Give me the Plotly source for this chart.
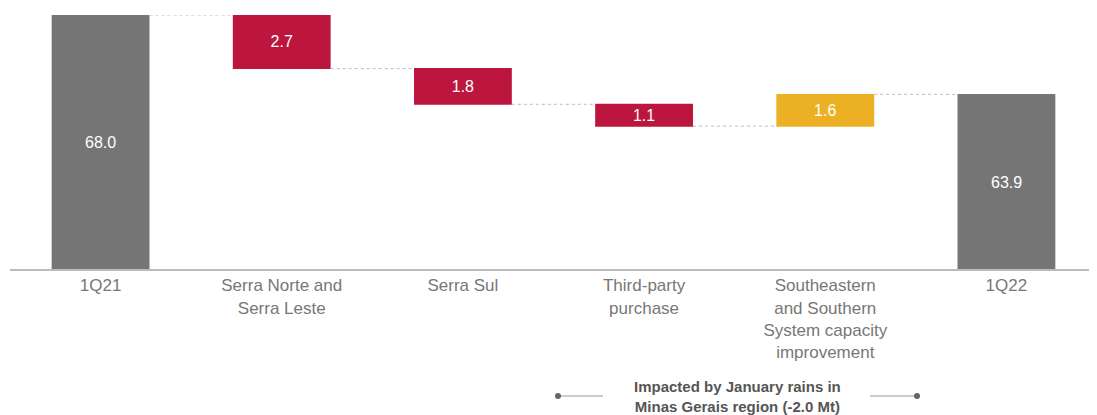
import plotly.graph_objects as go

categories = ["1Q21", "Serra Norte and<br>Serra Leste", "Serra Sul", "Third-party<br>purchase",
              "Southeastern<br>and Southern<br>System capacity<br>improvement", "1Q22"]
values = [68.0, -2.7, -1.8, -1.1, 1.6, 63.9]
measures = ["absolute", "relative", "relative", "relative", "relative", "total"]
labels = ["68.0", "2.7", "1.8", "1.1", "1.6", "63.9"]
note_text = "<b>Impacted by January rains in<br>Minas Gerais region (-2.0 Mt)</b>"

Y_MIN, Y_MAX = 55.2, 68.0

# page body has an 8px default margin; size figure to fit the window
OFF = 8
W, H = 1097 - OFF, 415 - OFF
L, R, T, B = 2, 0, 7, 146
FONT = "Liberation Sans, Arial"

bar_text = [t if m == "relative" else "" for t, m in zip(labels, measures)]

fig = go.Figure(go.Waterfall(
    x=categories, y=values, measure=measures,
    text=bar_text, textposition="inside", insidetextanchor="middle",
    textfont=dict(color="white", size=16, family=FONT),
    decreasing=dict(marker=dict(color="#BC163E")),
    increasing=dict(marker=dict(color="#EBB024")),
    totals=dict(marker=dict(color="#757576")),
    connector=dict(line=dict(color="#BDBDBD", width=1, dash="dot")),
    width=0.54,
))

def px2paper_x(px):
    return (px - OFF - L) / (W - L - R)

def px2paper_y(py):
    return (H - B - (py - OFF)) / (H - T - B)

annotations = []
for c, v, t, m in zip(categories, values, labels, measures):
    if m != "relative":
        annotations.append(dict(x=c, y=(Y_MIN + v) / 2, xref="x", yref="y", text=t,
                                showarrow=False, font=dict(color="white", size=16, family=FONT)))

yline = px2paper_y(396)
shapes = [
    dict(type="line", xref="paper", yref="paper", x0=px2paper_x(558), x1=px2paper_x(603),
         y0=yline, y1=yline, line=dict(color="#999999", width=1)),
    dict(type="line", xref="paper", yref="paper", x0=px2paper_x(870), x1=px2paper_x(917),
         y0=yline, y1=yline, line=dict(color="#999999", width=1)),
]
for xc in (558, 917):
    r = 3
    shapes.append(dict(type="circle", xref="paper", yref="paper",
                       x0=px2paper_x(xc - r), x1=px2paper_x(xc + r),
                       y0=px2paper_y(396 + r), y1=px2paper_y(396 - r),
                       fillcolor="#666666", line=dict(color="#666666", width=0)))

annotations.append(dict(text=note_text, xref="paper", yref="paper",
                        x=px2paper_x(737), y=yline, xanchor="center", yanchor="middle",
                        showarrow=False, font=dict(size=15, color="#555555", family=FONT),
                        align="center"))

fig.update_layout(
    width=W, height=H,
    margin=dict(l=L, r=R, t=T, b=B),
    plot_bgcolor="white", paper_bgcolor="white",
    showlegend=False,
    font=dict(family=FONT, color="#777777", size=17),
    xaxis=dict(showline=True, linecolor="#BBBBBB", linewidth=2, ticks="",
               showgrid=False, tickfont=dict(size=17, color="#777777")),
    yaxis=dict(range=[Y_MIN, Y_MAX], visible=False, showgrid=False, zeroline=False),
    shapes=shapes,
    annotations=annotations,
)

fig.write_html("out.html")
